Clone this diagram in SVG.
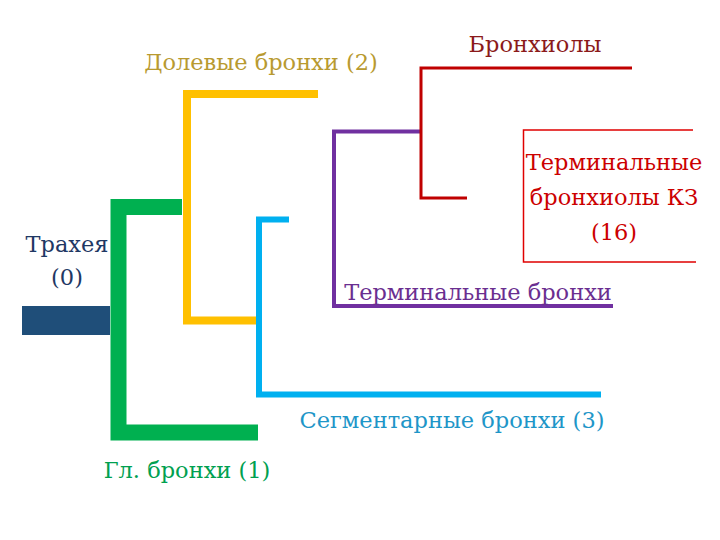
<svg xmlns="http://www.w3.org/2000/svg" width="720" height="540" viewBox="0 0 720 540">
<style>
.ln{fill:none;stroke-linejoin:miter;stroke-linecap:butt}
.t{font-family:"DejaVu Serif","Liberation Serif",serif;font-size:22.5px}
</style>
<rect width="720" height="540" fill="#fff"/>
<g id="connectors">
<path class="ln" d="M182 207 H118.5 V432.5 H258" stroke="#00B050" stroke-width="16"/>
<path class="ln" d="M318 94 H187 V320.5 H257" stroke="#FFC000" stroke-width="8"/>
<path class="ln" d="M289 219.5 H259 V394.5 H601" stroke="#00B0F0" stroke-width="6"/>
<path class="ln" d="M420 131.5 H334 V306 H613" stroke="#7030A0" stroke-width="4"/>
<path class="ln" d="M632 68 H421 V198 H467" stroke="#C00000" stroke-width="3"/>
<path class="ln" d="M693 130 H523.5 V262 H696" stroke="#E00000" stroke-width="1.5"/>
</g>
<g class="t">
<g id="trachea">
<rect x="22" y="306" width="88" height="29" fill="#1F4E79"/>
<text x="67" y="252" text-anchor="middle" fill="#1F3864">Трахея</text>
<text x="67" y="285" text-anchor="middle" fill="#1F3864">(0)</text>
</g>
<g id="main-bronchi"><text x="187" y="478" text-anchor="middle" fill="#00A050">Гл. бронхи (1)</text></g>
<g id="lobar-bronchi"><text x="261" y="70" text-anchor="middle" fill="#B89A30">Долевые бронхи (2)</text></g>
<g id="segmental-bronchi"><text x="452" y="428" text-anchor="middle" fill="#1E96C8">Сегментарные бронхи (3)</text></g>
<g id="terminal-bronchi"><text x="478" y="300" text-anchor="middle" fill="#6A2E90">Терминальные бронхи</text></g>
<g id="bronchioles"><text x="535" y="52" text-anchor="middle" fill="#8B1A1A">Бронхиолы</text></g>
<g id="terminal-bronchioles">
<text x="614" y="170" text-anchor="middle" fill="#CC0000">Терминальные</text>
<text x="614" y="205" text-anchor="middle" fill="#CC0000">бронхиолы КЗ</text>
<text x="614" y="240" text-anchor="middle" fill="#CC0000">(16)</text>
</g>
</g>
</svg>
